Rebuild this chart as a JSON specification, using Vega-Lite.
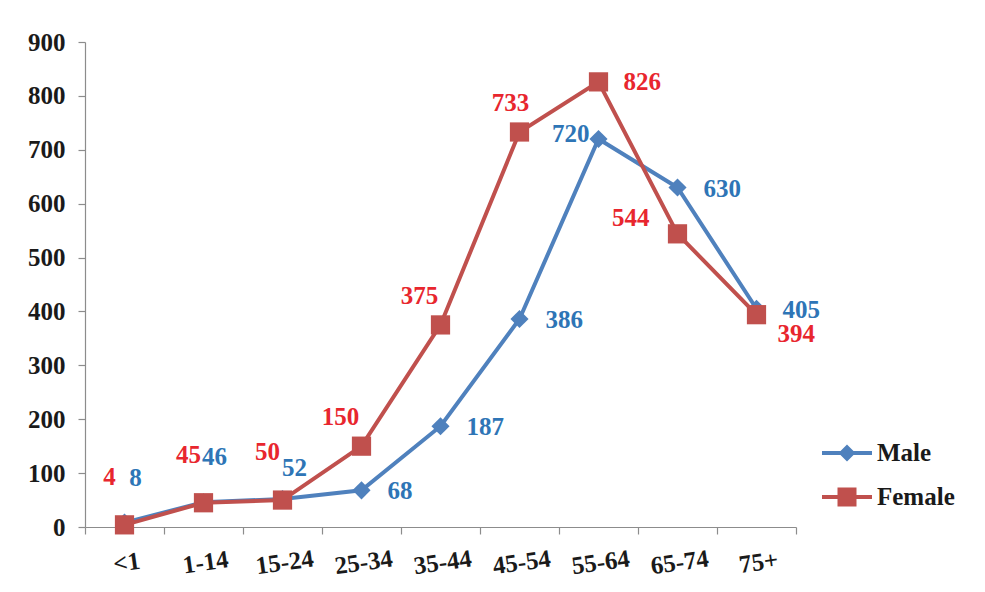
{
  "$schema": "https://vega.github.io/schema/vega-lite/v6.json",
  "autosize": {"type": "none"},
  "width": 711,
  "height": 485,
  "padding": {"left": 85, "top": 42, "right": 189, "bottom": 65},
  "background": "white",
  "config": {
    "view": {"stroke": null},
    "font": "Liberation Serif",
    "axis": {
      "labelFont": "Liberation Serif",
      "labelFontWeight": "bold",
      "labelFontSize": 25,
      "labelColor": "#1a1a1a",
      "domainColor": "#8c8c8c",
      "domainWidth": 1.2,
      "tickColor": "#8c8c8c",
      "tickWidth": 1.2,
      "tickSize": 7,
      "grid": false,
      "title": null
    },
    "legend": {
      "labelFont": "Liberation Serif",
      "labelFontWeight": "bold",
      "labelFontSize": 25,
      "labelColor": "#1a1a1a"
    }
  },
  "data": {
    "values": [
      {"age": "<1", "sex": "Male", "n": 8},
      {"age": "1-14", "sex": "Male", "n": 46},
      {"age": "15-24", "sex": "Male", "n": 52},
      {"age": "25-34", "sex": "Male", "n": 68},
      {"age": "35-44", "sex": "Male", "n": 187},
      {"age": "45-54", "sex": "Male", "n": 386},
      {"age": "55-64", "sex": "Male", "n": 720},
      {"age": "65-74", "sex": "Male", "n": 630},
      {"age": "75+", "sex": "Male", "n": 405},
      {"age": "<1", "sex": "Female", "n": 4},
      {"age": "1-14", "sex": "Female", "n": 45},
      {"age": "15-24", "sex": "Female", "n": 50},
      {"age": "25-34", "sex": "Female", "n": 150},
      {"age": "35-44", "sex": "Female", "n": 375},
      {"age": "45-54", "sex": "Female", "n": 733},
      {"age": "55-64", "sex": "Female", "n": 826},
      {"age": "65-74", "sex": "Female", "n": 544},
      {"age": "75+", "sex": "Female", "n": 394}
    ]
  },
  "encoding": {
    "x": {
      "field": "age",
      "type": "nominal",
      "sort": ["<1", "1-14", "15-24", "25-34", "35-44", "45-54", "55-64", "65-74", "75+"],
      "scale": {"type": "band", "paddingInner": 0, "paddingOuter": 0},
      "axis": {"labelAngle": -8, "labelAlign": "center", "labelBaseline": "top", "labelPadding": 16, "tickBand": "extent"}
    },
    "y": {
      "field": "n",
      "type": "quantitative",
      "scale": {"domain": [0, 900], "nice": false},
      "axis": {"values": [0, 100, 200, 300, 400, 500, 600, 700, 800, 900], "labelPadding": 13}
    }
  },
  "layer": [
    {
      "mark": {"type": "line", "strokeWidth": 4},
      "encoding": {
        "color": {"field": "sex", "type": "nominal", "scale": {"domain": ["Male", "Female"], "range": ["#4F81BD", "#C0504D"]}, "legend": null}
      }
    },
    {
      "mark": {"type": "point", "filled": true, "opacity": 1},
      "encoding": {
        "color": {"field": "sex", "type": "nominal", "scale": {"domain": ["Male", "Female"], "range": ["#4F81BD", "#C0504D"]}, "legend": null},
        "shape": {"field": "sex", "type": "nominal", "scale": {"domain": ["Male", "Female"], "range": ["diamond", "square"]}, "legend": null},
        "size": {"field": "sex", "type": "nominal", "scale": {"domain": ["Male", "Female"], "range": [330, 370]}, "legend": null}
      }
    },
    {
      "transform": [{"filter": "datum.sex === 'Male' && (datum.age === '<1' || datum.age === '1-14')"}],
      "mark": {"type": "text", "fontWeight": "bold", "fontSize": 25, "color": "#2E75B6", "align": "center", "baseline": "middle", "dx": 11, "dy": -45},
      "encoding": {"text": {"field": "n", "type": "quantitative"}}
    },
    {
      "transform": [{"filter": "datum.sex === 'Male' && datum.age === '15-24'"}],
      "mark": {"type": "text", "fontWeight": "bold", "fontSize": 25, "color": "#2E75B6", "align": "center", "baseline": "middle", "dx": 12, "dy": -31},
      "encoding": {"text": {"field": "n", "type": "quantitative"}}
    },
    {
      "transform": [{"filter": "datum.sex === 'Male' && indexof(['25-34','35-44','45-54','65-74','75+'], datum.age) >= 0"}],
      "mark": {"type": "text", "fontWeight": "bold", "fontSize": 25, "color": "#2E75B6", "align": "left", "baseline": "middle", "dx": 26, "dy": 1},
      "encoding": {"text": {"field": "n", "type": "quantitative"}}
    },
    {
      "transform": [{"filter": "datum.sex === 'Male' && datum.age === '55-64'"}],
      "mark": {"type": "text", "fontWeight": "bold", "fontSize": 25, "color": "#2E75B6", "align": "right", "baseline": "middle", "dx": -9, "dy": -5},
      "encoding": {"text": {"field": "n", "type": "quantitative"}}
    },
    {
      "transform": [{"filter": "datum.sex === 'Female' && indexof(['<1','1-14','15-24'], datum.age) >= 0"}],
      "mark": {"type": "text", "fontWeight": "bold", "fontSize": 25, "color": "#E8262E", "align": "center", "baseline": "middle", "dx": -15, "dy": -48},
      "encoding": {"text": {"field": "n", "type": "quantitative"}}
    },
    {
      "transform": [{"filter": "datum.sex === 'Female' && indexof(['25-34','35-44'], datum.age) >= 0"}],
      "mark": {"type": "text", "fontWeight": "bold", "fontSize": 25, "color": "#E8262E", "align": "center", "baseline": "middle", "dx": -21, "dy": -29},
      "encoding": {"text": {"field": "n", "type": "quantitative"}}
    },
    {
      "transform": [{"filter": "datum.sex === 'Female' && datum.age === '45-54'"}],
      "mark": {"type": "text", "fontWeight": "bold", "fontSize": 25, "color": "#E8262E", "align": "center", "baseline": "middle", "dx": -9, "dy": -29},
      "encoding": {"text": {"field": "n", "type": "quantitative"}}
    },
    {
      "transform": [{"filter": "datum.sex === 'Female' && datum.age === '55-64'"}],
      "mark": {"type": "text", "fontWeight": "bold", "fontSize": 25, "color": "#E8262E", "align": "left", "baseline": "middle", "dx": 25, "dy": 0},
      "encoding": {"text": {"field": "n", "type": "quantitative"}}
    },
    {
      "transform": [{"filter": "datum.sex === 'Female' && datum.age === '65-74'"}],
      "mark": {"type": "text", "fontWeight": "bold", "fontSize": 25, "color": "#E8262E", "align": "right", "baseline": "middle", "dx": -28, "dy": -16},
      "encoding": {"text": {"field": "n", "type": "quantitative"}}
    },
    {
      "transform": [{"filter": "datum.sex === 'Female' && datum.age === '75+'"}],
      "mark": {"type": "text", "fontWeight": "bold", "fontSize": 25, "color": "#E8262E", "align": "left", "baseline": "middle", "dx": 21, "dy": 19},
      "encoding": {"text": {"field": "n", "type": "quantitative"}}
    },
    {
      "transform": [{"filter": "false"}],
      "mark": {"type": "point", "filled": true, "opacity": 1},
      "encoding": {
        "color": {"field": "sex", "type": "nominal", "scale": {"domain": ["Male", "Female"], "range": ["#4F81BD", "#C0504D"]},
          "legend": {"title": null, "orient": "none", "legendX": 737, "legendY": 386, "symbolSize": 2500, "symbolStrokeWidth": 0, "labelOffset": 5, "rowPadding": 6}},
        "shape": {"field": "sex", "type": "nominal", "scale": {"domain": ["Male", "Female"], "range": ["M-1,-0.08L1,-0.08L1,0.08L-1,0.08Z M0,-0.34L0.34,0L0,0.34L-0.34,0Z", "M-1,-0.08L1,-0.08L1,0.08L-1,0.08Z M-0.38,-0.38L0.38,-0.38L0.38,0.38L-0.38,0.38Z"]}}
      }
    }
  ],
  "resolve": {"scale": {"color": "independent", "shape": "independent", "size": "independent"}}
}
